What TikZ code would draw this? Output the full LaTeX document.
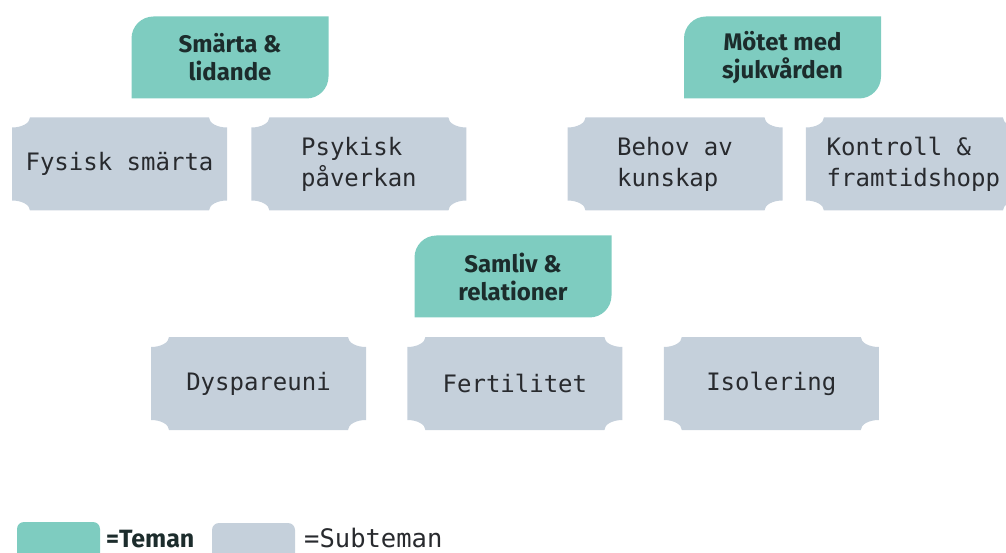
\documentclass[tikz,border=0pt]{standalone}
\usepackage{fontspec}
\setmainfont{Fira Sans}
\setmonofont{DejaVu Sans Mono}
\usetikzlibrary{positioning,calc}
\definecolor{temateal}{RGB}{126,204,192}
\definecolor{subgray}{RGB}{197,208,219}
\definecolor{tematext}{RGB}{28,44,44}
\definecolor{subtext}{RGB}{40,42,46}

\begin{document}
\begin{tikzpicture}[x=1pt, y=1pt, node distance=24pt,
	tema/.style={minimum width=197pt, minimum height=82pt, inner sep=0pt, align=center, text=tematext, font=\fontsize{24}{28}\selectfont\bfseries,
		path picture={\fill[temateal] let \p1=(path picture bounding box.south west), \p2=(path picture bounding box.north east) in
			(\x1,\y1) -- (\x2-22pt,\y1) arc[start angle=270, end angle=360, radius=22pt] -- (\x2,\y2) -- (\x1+22pt,\y2) arc[start angle=90, end angle=180, radius=22pt] -- cycle;}},
	subtema/.style={minimum width=215pt, minimum height=93pt, inner sep=0pt, align=left, text=subtext, font=\fontsize{24}{31}\selectfont\ttfamily,
		path picture={\fill[subgray] let \p1=(path picture bounding box.south west), \p2=(path picture bounding box.north east) in
			(\x1,\y1+10pt) -- (\x1,\y2-10pt) arc[start angle=270, end angle=360, x radius=18pt, y radius=10pt]
			-- (\x2-18pt,\y2) arc[start angle=180, end angle=270, x radius=18pt, y radius=10pt]
			-- (\x2,\y1+10pt) arc[start angle=90, end angle=180, x radius=18pt, y radius=10pt]
			-- (\x1+18pt,\y1) arc[start angle=0, end angle=90, x radius=18pt, y radius=10pt] -- cycle;}}]
	\useasboundingbox (0,0) rectangle (1006,552);

	% teman
	\node[tema] (T1) at (230,494.5) {Smärta \&\\lidande};
	\node[tema] (T2) at (782.5,494.5) {Mötet med\\sjukvården};
	\node[tema] (T3) at (513,275.5) {Samliv \&\\relationer};

	% subteman
	\node[subtema] (S1) at (119.5,388) {Fysisk smärta};
	\node[subtema] (S2) [right=of S1] {Psykisk\\påverkan};
	\node[subtema] (S3) at (675,388) {Behov av\\kunskap};
	\node[subtema] (S4) [right=23pt of S3] {Kontroll \&\\framtidshopp};
	\node[subtema] (S5) at (258.5,168.5) {Dyspareuni};
	\node[subtema] (S6) [right=41pt of S5] {Fertilitet};
	\node[subtema] (S7) [right=41pt of S6] {Isolering};

	% legend
	\node[fill=temateal, rounded corners=7pt, minimum width=83pt, minimum height=40pt] (K1) at (58.5,10) {};
	\node[anchor=base west, inner sep=0pt, text=tematext, font=\fontsize{25}{28}\selectfont\bfseries] (K1t) at (106,5) {=Teman};
	\node[fill=subgray, rounded corners=7pt, minimum width=83pt, minimum height=40pt] (K2) at (253.5,9) {};
	\node[anchor=base west, inner sep=0pt, text=subtext, font=\fontsize{25.5}{30}\selectfont\ttfamily] (K2t) at (304,5) {=Subteman};
\end{tikzpicture}
\end{document}
